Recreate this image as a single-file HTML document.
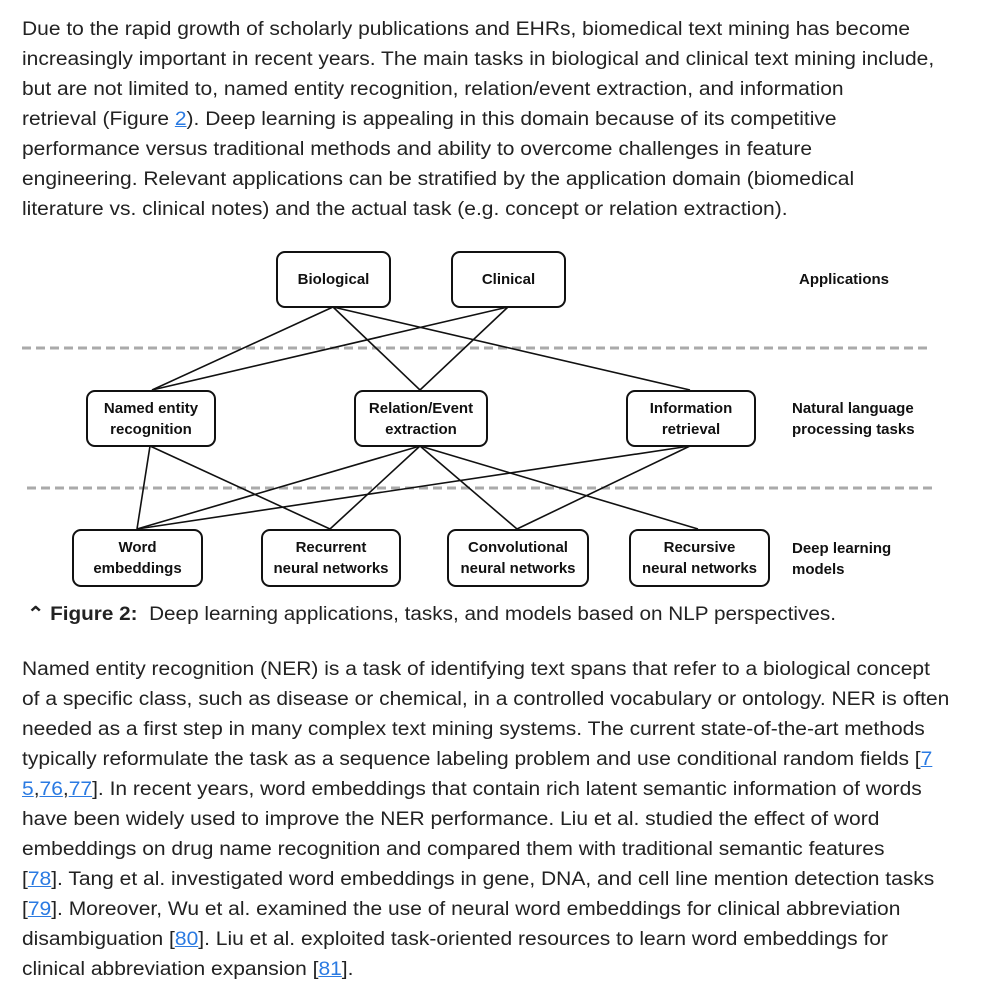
<!DOCTYPE html>
<html><head><meta charset="utf-8"><style>
body{margin:0;width:1000px;height:1000px;background:#fff;position:relative;overflow:hidden;font-family:"Liberation Sans",sans-serif;color:#222}
.l{position:absolute;left:22px;font-size:19px;white-space:nowrap;line-height:30px;transform:scaleX(1.105);transform-origin:0 0}
a{color:#2a7ae2;text-decoration:underline}
.b{position:absolute;border:2px solid #111;border-radius:9px;box-sizing:border-box;display:flex;align-items:center;justify-content:center;text-align:center;font-size:15px;font-weight:bold;line-height:21px;background:#fff;color:#111}
.s{position:absolute;font-size:15px;font-weight:bold;line-height:21px;color:#111}
</style></head><body>
<div class="l" style="top:15px">Due to the rapid growth of scholarly publications and EHRs, biomedical text mining has become</div>
<div class="l" style="top:45px">increasingly important in recent years. The main tasks in biological and clinical text mining include,</div>
<div class="l" style="top:75px">but are not limited to, named entity recognition, relation/event extraction, and information</div>
<div class="l" style="top:105px">retrieval (Figure <a>2</a>). Deep learning is appealing in this domain because of its competitive</div>
<div class="l" style="top:135px">performance versus traditional methods and ability to overcome challenges in feature</div>
<div class="l" style="top:165px">engineering. Relevant applications can be stratified by the application domain (biomedical</div>
<div class="l" style="top:195px">literature vs. clinical notes) and the actual task (e.g. concept or relation extraction).</div>

<svg style="position:absolute;left:0;top:0" width="1000" height="1000">
<g stroke="#aaa" stroke-width="3" stroke-dasharray="9,5">
<line x1="22" y1="348" x2="932" y2="348"/>
<line x1="27" y1="488" x2="937" y2="488"/>
</g>
<g stroke="#111" stroke-width="1.6">
<line x1="333" y1="307" x2="152" y2="390"/>
<line x1="333" y1="307" x2="420" y2="390"/>
<line x1="333" y1="307" x2="690" y2="390"/>
<line x1="508" y1="307" x2="152" y2="390"/>
<line x1="508" y1="307" x2="420" y2="390"/>
<line x1="150" y1="446" x2="137" y2="529"/>
<line x1="150" y1="446" x2="330" y2="529"/>
<line x1="420" y1="446" x2="137" y2="529"/>
<line x1="420" y1="446" x2="330" y2="529"/>
<line x1="420" y1="446" x2="517" y2="529"/>
<line x1="420" y1="446" x2="698" y2="529"/>
<line x1="690" y1="446" x2="137" y2="529"/>
<line x1="690" y1="446" x2="517" y2="529"/>
</g>
</svg>
<div class="b" style="left:276px;top:251px;width:115px;height:57px">Biological</div>
<div class="b" style="left:451px;top:251px;width:115px;height:57px">Clinical</div>
<div class="b" style="left:86px;top:390px;width:130px;height:57px">Named entity<br>recognition</div>
<div class="b" style="left:354px;top:390px;width:134px;height:57px">Relation/Event<br>extraction</div>
<div class="b" style="left:626px;top:390px;width:130px;height:57px">Information<br>retrieval</div>
<div class="b" style="left:72px;top:529px;width:131px;height:58px">Word<br>embeddings</div>
<div class="b" style="left:261px;top:529px;width:140px;height:58px">Recurrent<br>neural networks</div>
<div class="b" style="left:447px;top:529px;width:142px;height:58px">Convolutional<br>neural networks</div>
<div class="b" style="left:629px;top:529px;width:141px;height:58px">Recursive<br>neural networks</div>
<div class="s" style="left:799px;top:269px">Applications</div>
<div class="s" style="left:792px;top:398px">Natural language<br>processing tasks</div>
<div class="s" style="left:792px;top:538px">Deep learning<br>models</div>

<div class="l" style="top:600px;left:27px;transform:scaleX(1.09)"><b>⌃ Figure 2:</b>&nbsp; Deep learning applications, tasks, and models based on NLP perspectives.</div>

<div class="l" style="top:655px">Named entity recognition (NER) is a task of identifying text spans that refer to a biological concept</div>
<div class="l" style="top:685px">of a specific class, such as disease or chemical, in a controlled vocabulary or ontology. NER is often</div>
<div class="l" style="top:715px">needed as a first step in many complex text mining systems. The current state-of-the-art methods</div>
<div class="l" style="top:745px">typically reformulate the task as a sequence labeling problem and use conditional random fields [<a>7</a></div>
<div class="l" style="top:775px"><a>5</a>,<a>76</a>,<a>77</a>]. In recent years, word embeddings that contain rich latent semantic information of words</div>
<div class="l" style="top:805px">have been widely used to improve the NER performance. Liu et al. studied the effect of word</div>
<div class="l" style="top:835px">embeddings on drug name recognition and compared them with traditional semantic features</div>
<div class="l" style="top:865px">[<a>78</a>]. Tang et al. investigated word embeddings in gene, DNA, and cell line mention detection tasks</div>
<div class="l" style="top:895px">[<a>79</a>]. Moreover, Wu et al. examined the use of neural word embeddings for clinical abbreviation</div>
<div class="l" style="top:925px">disambiguation [<a>80</a>]. Liu et al. exploited task-oriented resources to learn word embeddings for</div>
<div class="l" style="top:955px">clinical abbreviation expansion [<a>81</a>].</div>
</body></html>
